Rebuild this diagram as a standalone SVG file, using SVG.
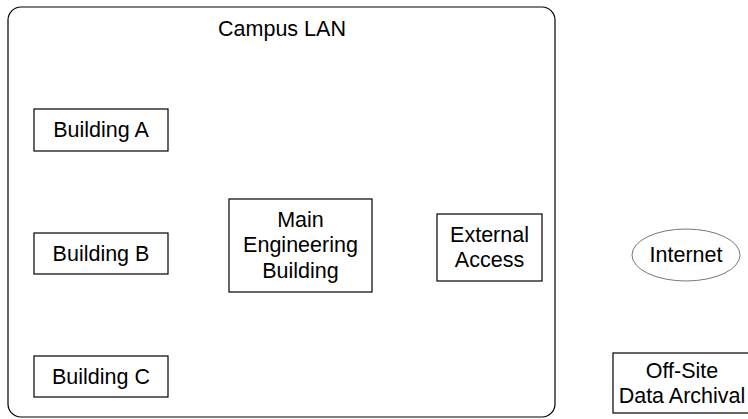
<svg xmlns="http://www.w3.org/2000/svg" width="748" height="419" viewBox="0 0 748 419">
<style>
.box{fill:#fff;stroke:#000;stroke-width:1.2}
.t{font-family:"Liberation Sans",Arial,sans-serif;font-size:21.5px;fill:#000;text-anchor:middle}
</style>
<rect width="748" height="419" fill="#fff"/>
<g id="campus-lan">
<rect x="8" y="7" width="547" height="410" rx="13" ry="13" fill="none" stroke="#000" stroke-width="1.2"/>
<text class="t" x="282" y="36">Campus LAN</text>
</g>
<g id="building-a">
<rect class="box" x="34" y="109" width="134" height="42"/>
<text class="t" x="101" y="137">Building A</text>
</g>
<g id="building-b">
<rect class="box" x="34" y="233" width="134" height="41"/>
<text class="t" x="101" y="261">Building B</text>
</g>
<g id="building-c">
<rect class="box" x="34" y="356" width="134" height="41"/>
<text class="t" x="101" y="384">Building C</text>
</g>
<g id="main-engineering">
<rect class="box" x="229" y="199" width="143" height="93"/>
<text class="t" x="300.5" y="227">Main</text>
<text class="t" x="300.5" y="252">Engineering</text>
<text class="t" x="300.5" y="278">Building</text>
</g>
<g id="external-access">
<rect class="box" x="437" y="214" width="105" height="67"/>
<text class="t" x="489.5" y="242">External</text>
<text class="t" x="489.5" y="267">Access</text>
</g>
<g id="internet">
<ellipse cx="686" cy="255" rx="54" ry="26" fill="#fff" stroke="#777" stroke-width="1"/>
<text class="t" x="686" y="262">Internet</text>
</g>
<g id="offsite">
<rect class="box" x="613" y="353" width="140" height="60"/>
<text class="t" x="682" y="378">Off-Site</text>
<text class="t" x="682" y="403">Data Archival</text>
</g>
<g id="connectors"></g>
</svg>
